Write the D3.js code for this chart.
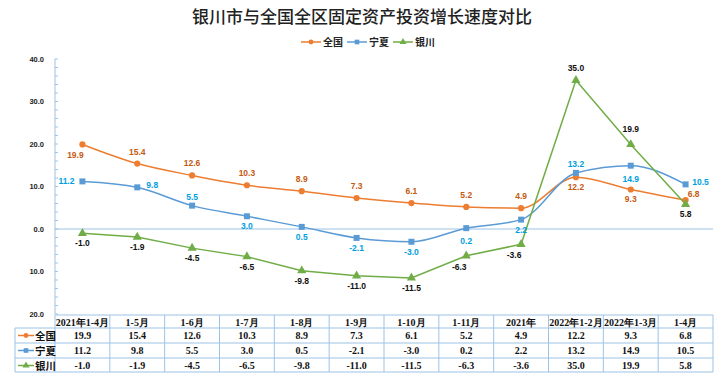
<!DOCTYPE html>
<html><head><meta charset="utf-8">
<script src="https://cdn.jsdelivr.net/npm/d3@7/dist/d3.min.js"></script>
<style>body{margin:0;background:#fff}svg{display:block}</style>
</head><body>
<script>
const categories = ["2021年1-4月","1-5月","1-6月","1-7月","1-8月","1-9月","1-10月","1-11月","2021年","2022年1-2月","2022年1-3月","1-4月"];
const quanguo = [19.9,15.4,12.6,10.3,8.9,7.3,6.1,5.2,4.9,12.2,9.3,6.8];
const ningxia = [11.2,9.8,5.5,3.0,0.5,-2.1,-3.0,0.2,2.2,13.2,14.9,10.5];
const yinchuan = [-1.0,-1.9,-4.5,-6.5,-9.8,-11.0,-11.5,-6.3,-3.6,35.0,19.9,5.8];
const yTicks = [40,30,20,10,0,-10,-20];
const seriesNames = ["全国","宁夏","银川"];

// label placement codes per point
const posQ = ["bl","a","a","a","a","a","a","a","a","b","b","ar"];
const posN = ["l","r","a2","b","b","b","b","b2","b","a2","b2","r"];
const posY = ["b","b","b","b","b","b","b","bl","bl","a","a3","b"];

(function(){
const W=728,H=385;
const pL=55,pR=713,pT=59,pB=314;
const svg=d3.select("body").append("svg").attr("width",W).attr("height",H);

const x=d3.scaleBand().domain(categories).range([pL,pR]);
const y=d3.scaleLinear().domain([-20,40]).range([pB,pT]);
const cx=c=>x(c)+x.bandwidth()/2;

svg.append("text").attr("x",362).attr("y",23).attr("text-anchor","middle")
  .attr("font-family","'Noto Sans CJK SC'").attr("font-size",17).attr("font-weight",500)
  .attr("fill","#222").text("银川市与全国全区固定资产投资增长速度对比");

const colors=["#ED7D31","#5B9BD5","#70AD47"];
const labelColors=["#C55A11","#00A0E0","#111"];
const data=[quanguo,ningxia,yinchuan];
const poss=[posQ,posN,posY];
const shapes=[d3.symbolCircle,d3.symbolSquare,d3.symbolTriangle];
const sizes=[30,36,36];
const curves=[d3.curveMonotoneX,d3.curveMonotoneX,d3.curveLinear];

// legend
const lg=svg.append("g");
let lx=301;
seriesNames.forEach((n,i)=>{
  lg.append("line").attr("x1",lx).attr("x2",lx+20).attr("y1",42).attr("y2",42).attr("stroke",colors[i]).attr("stroke-width",1.5);
  lg.append("path").attr("d",d3.symbol().type(shapes[i]).size(sizes[i]*0.6)()).attr("transform",`translate(${lx+10},42)`).attr("fill",colors[i]);
  lg.append("text").attr("x",lx+22).attr("y",46).attr("font-family","'Noto Sans CJK SC'").attr("font-size",10).attr("font-weight",700).attr("fill","#222").text(n);
  lx+=46;
});

// y axis
const yAxis=d3.axisLeft(y).tickValues(yTicks).tickSize(0).tickFormat(d=>d3.format(".1f")(Math.abs(d)));
const ga=svg.append("g").attr("transform",`translate(${pL-8},0)`).call(yAxis);
ga.select(".domain").remove();
ga.selectAll("text").attr("font-family","'Liberation Sans'").attr("font-size",7.5).attr("font-weight",700).attr("fill","#222").attr("dy","0.32em");
svg.append("line").attr("x1",pL).attr("x2",pL).attr("y1",pT).attr("y2",pB).attr("stroke","#9DC3E6").attr("stroke-width",1);
d3.range(-20,41,2).forEach(v=>{
  svg.append("line").attr("x1",pL).attr("x2",pL+3).attr("y1",y(v)).attr("y2",y(v)).attr("stroke","#9DC3E6");
});
svg.append("line").attr("x1",pL).attr("x2",pR).attr("y1",y(0)).attr("y2",y(0)).attr("stroke","#9DC3E6").attr("stroke-width",1);

// lines
data.forEach((s,k)=>{
  const line=d3.line().x((d,i)=>cx(categories[i])).y(d=>y(d)).curve(curves[k]);
  svg.append("path").attr("d",line(s)).attr("fill","none").attr("stroke",colors[k]).attr("stroke-width",1.5);
});
data.forEach((s,k)=>{
  s.forEach((v,i)=>{
    svg.append("path").attr("d",d3.symbol().type(shapes[k]).size(sizes[k])()).attr("transform",`translate(${cx(categories[i])},${y(v)})`).attr("fill",colors[k]);
  });
});
// labels (offsets of text baseline from point)
const off={a:[0,-9],a2:[0,-6],a3:[0,-12],b:[0,13],b2:[0,16],l:[-16,3],r:[15,1],bl:[-7,14],ar:[8,-3]};
data.forEach((s,k)=>{
  s.forEach((v,i)=>{
    const o=off[poss[k][i]];
    svg.append("text").attr("x",cx(categories[i])+o[0]).attr("y",y(v)+o[1]).attr("text-anchor","middle")
      .attr("font-family","'Liberation Sans'").attr("font-size",8.5).attr("font-weight",700).attr("fill",labelColors[k]).text(v.toFixed(1));
  });
});

// table
const rowY=[315,328,343,358,372];
const tc="#9DC3E6";
const tl="'Liberation Serif'";
svg.append("line").attr("x1",pL).attr("x2",pR).attr("y1",rowY[0]).attr("y2",rowY[0]).attr("stroke",tc);
for(let r=1;r<5;r++) svg.append("line").attr("x1",15).attr("x2",pR).attr("y1",rowY[r]).attr("y2",rowY[r]).attr("stroke",tc);
svg.append("line").attr("x1",15).attr("x2",15).attr("y1",rowY[1]).attr("y2",rowY[4]).attr("stroke",tc);
categories.forEach((c,i)=>{
  svg.append("line").attr("x1",x(c)).attr("x2",x(c)).attr("y1",rowY[0]).attr("y2",rowY[4]).attr("stroke",tc);
  svg.append("text").attr("x",cx(c)).attr("y",rowY[0]+10.5).attr("text-anchor","middle").attr("font-family",tl).attr("font-size",10).attr("font-weight",700).attr("fill","#111").text(c);
  data.forEach((s,k)=>{
    svg.append("text").attr("x",cx(c)).attr("y",rowY[k+1]+11).attr("text-anchor","middle").attr("font-family",tl).attr("font-size",10).attr("font-weight",700).attr("fill","#111").text(s[i].toFixed(1));
  });
});
svg.append("line").attr("x1",pR).attr("x2",pR).attr("y1",rowY[0]).attr("y2",rowY[4]).attr("stroke",tc);
seriesNames.forEach((n,k)=>{
  const yy=rowY[k+1]+7.5;
  svg.append("line").attr("x1",18).attr("x2",34).attr("y1",yy).attr("y2",yy).attr("stroke",colors[k]).attr("stroke-width",1.5);
  svg.append("path").attr("d",d3.symbol().type(shapes[k]).size(sizes[k]*0.6)()).attr("transform",`translate(26,${yy})`).attr("fill",colors[k]);
  svg.append("text").attr("x",35).attr("y",yy+4).attr("font-family","'Noto Sans CJK SC'").attr("font-size",10.5).attr("font-weight",700).attr("fill","#111").text(n);
});
})();
</script>
</body></html>
